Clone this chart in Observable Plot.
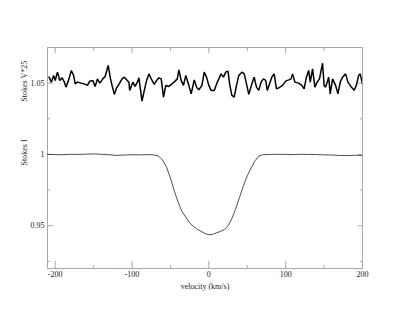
<!DOCTYPE html>
<html>
<head>
<meta charset="utf-8">
<script src="https://cdn.jsdelivr.net/npm/d3@7"></script>
<script src="https://cdn.jsdelivr.net/npm/@observablehq/plot@0.6"></script>
<style>
  html, body { margin: 0; padding: 0; background: #ffffff; }
  #chart { width: 409px; height: 316px; }
</style>
</head>
<body>
<div id="chart"></div>
<script>
// Stokes V (scaled by 25, offset) — noisy signal
const velocityV = [
  -208, -205, -202, -200, -197, -194, -191, -188, -186, -182, -179, -176, -174, -171, -166, -162,
  -158, -155, -151, -148, -145, -142, -138, -135, -131, -128, -126, -123, -120, -117, -113, -110,
  -104, -103, -99, -96, -93, -91, -87, -84, -81, -78, -75, -71, -68, -65, -62, -59,
  -56, -52, -48, -44, -41, -39, -36, -33, -30, -26, -23, -19, -16, -13, -9, -6,
  -3, 0, 3, 7, 11, 16, 19, 22, 25, 27, 30, 33, 36, 39, 43, 46,
  49, 52, 56, 59, 62, 65, 68, 71, 74, 76, 79, 82, 85, 88, 91, 96,
  100, 104, 107, 109, 112, 117, 121, 124, 127, 130, 132, 135, 138, 141, 144, 148,
  150, 152, 156, 158, 161, 165, 168, 171, 174, 178, 181, 184, 189, 192, 195, 197, 201
];
const stokesV = [
  1.0542, 1.0507, 1.0554, 1.0519, 1.0577, 1.0519, 1.0537, 1.0507, 1.0472, 1.0530, 1.0589, 1.0554, 1.0495, 1.0507, 1.0500, 1.0495,
  1.0484, 1.0514, 1.0519, 1.0477, 1.0530, 1.0500, 1.0530, 1.0547, 1.0624, 1.0530, 1.0484, 1.0421, 1.0467, 1.0491, 1.0530, 1.0542,
  1.0507, 1.0449, 1.0507, 1.0477, 1.0507, 1.0537, 1.0374, 1.0449, 1.0519, 1.0565, 1.0530, 1.0491, 1.0519, 1.0537, 1.0530, 1.0402,
  1.0484, 1.0477, 1.0495, 1.0514, 1.0530, 1.0593, 1.0519, 1.0484, 1.0554, 1.0484, 1.0425, 1.0523, 1.0472, 1.0453, 1.0484, 1.0577,
  1.0542, 1.0484, 1.0449, 1.0449, 1.0507, 1.0565, 1.0542, 1.0577, 1.0584, 1.0495, 1.0414, 1.0402, 1.0484, 1.0554, 1.0577, 1.0565,
  1.0495, 1.0421, 1.0495, 1.0542, 1.0472, 1.0449, 1.0507, 1.0530, 1.0519, 1.0449, 1.0495, 1.0542, 1.0565, 1.0460, 1.0467, 1.0484,
  1.0514, 1.0523, 1.0530, 1.0565, 1.0507, 1.0500, 1.0484, 1.0460, 1.0542, 1.0589, 1.0507, 1.0600, 1.0472, 1.0507, 1.0530, 1.0640,
  1.0484, 1.0472, 1.0542, 1.0425, 1.0530, 1.0484, 1.0425, 1.0507, 1.0542, 1.0565, 1.0507, 1.0484, 1.0449, 1.0484, 1.0554, 1.0565, 1.0472
];

// Stokes I — intensity profile
const velocityI = [
  -210, -200, -190, -180, -170, -160, -150, -140, -130, -120, -110, -100, -90, -80, -72, -66,
  -60, -55, -50, -45, -40, -35, -30, -25, -20, -15, -10, -5, 0, 5, 10, 15,
  20, 25, 30, 35, 40, 45, 50, 55, 60, 65, 70, 80, 90, 100, 110, 120,
  130, 140, 150, 160, 170, 180, 190, 200
];
const stokesI = [
  1.0000, 0.9999, 0.9998, 1.0001, 1.0000, 1.0002, 1.0004, 1.0001, 0.9998, 0.9993, 0.9996, 0.9998, 0.9997, 0.9999, 0.9997, 0.9990,
  0.9960, 0.9910, 0.9835, 0.9745, 0.9665, 0.9600, 0.9560, 0.9520, 0.9495, 0.9475, 0.9460, 0.9445, 0.9437, 0.9440, 0.9450, 0.9460,
  0.9472, 0.9500, 0.9550, 0.9620, 0.9700, 0.9780, 0.9850, 0.9905, 0.9955, 0.9988, 0.9998, 1.0000, 1.0001, 1.0000, 0.9999, 1.0001,
  1.0000, 0.9999, 0.9997, 0.9996, 0.9993, 0.9992, 0.9994, 0.9993
];

// Ticks
const xMajorTicks = [-200, -100, 0, 100, 200];
const xMinorTicks = [-150, -50, 50, 150];
const yMajorTicks = [0.95, 1, 1.05];
const yMinorTicks = [0.925, 0.975, 1.025];

// Labels
const xLabel = "velocity (km/s)";
const yLabels = ["Stokes V*25", "Stokes I"];
const yLabelAt = [1.05, 1];

const vData = velocityV.map((v, i) => ({ v, s: stokesV[i] }));
const iData = velocityI.map((v, i) => ({ v, s: stokesI[i] }));
const yLabelData = yLabels.map((t, i) => ({ t, y: yLabelAt[i] }));

const axisColor = "#a2a9b3";
const textColor = "#222222";
const none = () => "";

const chart = Plot.plot({
  width: 409,
  height: 316,
  marginLeft: 47,
  marginRight: 47,
  marginTop: 47,
  marginBottom: 48,
  x: { domain: [-210, 200] },
  y: { domain: [0.92, 1.075] },
  style: { fontFamily: "'Liberation Serif', 'DejaVu Serif', serif", fontSize: "8px", background: "#ffffff", color: textColor },
  marks: [
    Plot.frame({ stroke: axisColor, strokeWidth: 1 }),
    // bottom axis (inward ticks)
    Plot.axisX(xMajorTicks, { anchor: "bottom", tickSize: -7, tickPadding: 10, stroke: axisColor, fill: textColor, tickFormat: d => String(d), label: null }),
    Plot.axisX(xMinorTicks, { anchor: "bottom", tickSize: -3, tickFormat: none, stroke: axisColor, label: null }),
    // top axis
    Plot.axisX(xMajorTicks, { anchor: "top", tickSize: -5, tickFormat: none, stroke: axisColor, label: null }),
    Plot.axisX(xMinorTicks, { anchor: "top", tickSize: -3, tickFormat: none, stroke: axisColor, label: null }),
    // left axis
    Plot.axisY(yMajorTicks, { anchor: "left", tickSize: -6, tickPadding: 9, stroke: axisColor, fill: textColor, tickFormat: d => String(d), label: null }),
    Plot.axisY(yMinorTicks, { anchor: "left", tickSize: -3, tickFormat: none, stroke: axisColor, label: null }),
    // right axis
    Plot.axisY(yMajorTicks, { anchor: "right", tickSize: -5, tickFormat: none, stroke: axisColor, label: null }),
    Plot.axisY(yMinorTicks, { anchor: "right", tickSize: -3, tickFormat: none, stroke: axisColor, label: null }),
    // data
    Plot.line(iData, { x: "v", y: "s", stroke: "#3a3a3a", strokeWidth: 0.9, clip: true }),
    Plot.line(vData, { x: "v", y: "s", stroke: "#000000", strokeWidth: 1.5, strokeLinejoin: "miter", clip: true }),
    // labels
    Plot.text([xLabel], { text: d => d, frameAnchor: "bottom", dy: 18, lineAnchor: "middle", fill: textColor }),
    Plot.text(yLabelData, { text: "t", y: "y", frameAnchor: "left", dx: -23, dy: -2, rotate: -90, fill: textColor, textAnchor: "middle" })
  ]
});

document.getElementById("chart").appendChild(chart);
</script>
</body>
</html>
